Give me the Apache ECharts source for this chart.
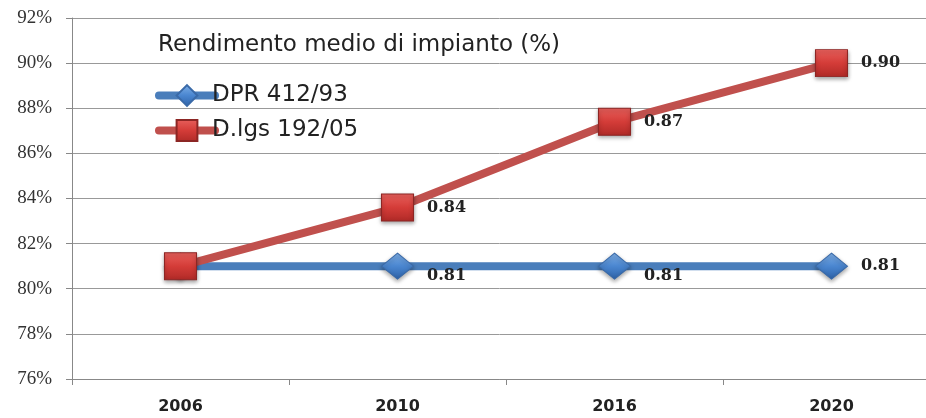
<!DOCTYPE html>
<html lang="it">
<head>
    <meta charset="UTF-8">
    <title>Rendimento medio di impianto</title>
    <script src="https://cdn.jsdelivr.net/npm/echarts@6/dist/echarts.min.js"></script>
    <style>
        html, body { margin: 0; padding: 0; background: #fff; }
        #chart { width: 926px; height: 418px; }
    </style>
</head>
<body>
    <div id="chart"></div>
    <script>
        // dati
        var anni = ['2006', '2010', '2016', '2020'];
        var dpr = [0.81, 0.81, 0.81, 0.81];
        var dlgs = [0.81, 0.836, 0.874, 0.90];
        var titolo = 'Rendimento medio di impianto (%)';

        var chart = echarts.init(document.getElementById('chart'));

        // etichette: la prima nascosta sotto il quadrato rosso
        var datiDpr = dpr.map(function (v, i) {
            var lab = { show: i > 0 };
            if (i == 1 || i == 2) lab.offset = [0, 10];
            return { value: v, label: lab };
        });
        var datiDlgs = dlgs.map(function (v, i) {
            return { value: v, label: { show: i > 0 } };
        });

        var labelStyle = {
            position: 'right',
            distance: 13,
            fontFamily: 'DejaVu Serif',
            fontWeight: 'bold',
            fontSize: 16,
            color: '#222',
            formatter: function (p) { return p.value.toFixed(2); }
        };

        var option = {
            animation: false,
            title: {
                text: titolo,
                left: 153,
                top: 29,
                textStyle: { fontFamily: 'DejaVu Sans', fontSize: 23, fontWeight: 'normal', color: '#222' }
            },
            legend: {
                orient: 'vertical',
                left: 150,
                top: 79,
                itemWidth: 56,
                itemHeight: 26,
                itemGap: 12,
                lineStyle: { width: 8, cap: 'round' },
                textStyle: { fontFamily: 'DejaVu Sans', fontSize: 23, color: '#222', padding: [0, 0, 0, -8] },
                data: ['DPR 412/93', 'D.lgs 192/05']
            },
            grid: { left: 72, width: 868, top: 18, bottom: 39, outerBoundsMode: 'none' },
            xAxis: {
                type: 'category',
                data: anni,
                boundaryGap: true,
                axisLine: { lineStyle: { color: '#888' } },
                axisTick: { show: true, length: 6, lineStyle: { color: '#888' } },
                axisLabel: { fontFamily: 'DejaVu Sans', fontWeight: 'bold', fontSize: 16, color: '#222', margin: 20 }
            },
            yAxis: {
                type: 'value',
                min: 0.76,
                max: 0.92,
                interval: 0.02,
                axisLine: { show: true, lineStyle: { color: '#888' } },
                axisTick: { show: true, length: 6, lineStyle: { color: '#888' } },
                splitLine: { lineStyle: { color: '#999' } },
                axisLabel: {
                    fontFamily: 'Liberation Serif',
                    fontSize: 19,
                    color: '#333',
                    margin: 20,
                    formatter: function (v) { return Math.round(v * 100) + '%'; }
                }
            },
            series: [
                {
                    name: 'DPR 412/93',
                    type: 'line',
                    data: datiDpr,
                    symbol: 'diamond',
                    symbolSize: [32, 26],
                    lineStyle: { color: '#4a7ebb', width: 8 },
                    itemStyle: {
                        color: new echarts.graphic.LinearGradient(0, 0, 0, 1, [
                            { offset: 0, color: '#7fb0e8' },
                            { offset: 0.5, color: '#4a86d0' },
                            { offset: 1, color: '#2d62a8' }
                        ]),
                        borderColor: '#3a6aa8',
                        borderWidth: 1,
                        shadowBlur: 4,
                        shadowColor: 'rgba(0,0,0,0.35)',
                        shadowOffsetY: 2
                    },
                    label: labelStyle
                },
                {
                    name: 'D.lgs 192/05',
                    type: 'line',
                    data: datiDlgs,
                    symbol: 'rect',
                    symbolSize: [32, 27],
                    lineStyle: { color: '#c0504d', width: 8 },
                    itemStyle: {
                        color: new echarts.graphic.LinearGradient(0, 0, 0, 1, [
                            { offset: 0, color: '#e8605c' },
                            { offset: 0.5, color: '#d43c38' },
                            { offset: 1, color: '#b02a27' }
                        ]),
                        borderColor: '#8c2624',
                        borderWidth: 1,
                        shadowBlur: 4,
                        shadowColor: 'rgba(0,0,0,0.35)',
                        shadowOffsetY: 2
                    },
                    label: labelStyle
                }
            ]
        };
        chart.setOption(option);
    </script>
</body>
</html>
